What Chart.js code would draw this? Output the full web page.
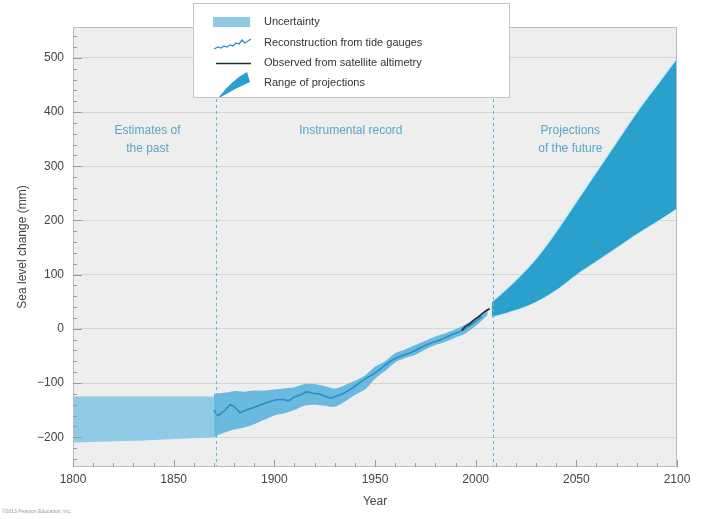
<!DOCTYPE html>
<html>
<head>
<meta charset="utf-8">
<script src="https://cdn.jsdelivr.net/npm/chart.js@4/dist/chart.umd.min.js"></script>
<style>
  html, body { margin: 0; padding: 0; background: #ffffff; }
  #wrap { position: relative; width: 706px; height: 519px; }
  canvas { display: block; }
</style>
</head>
<body>
<div id="wrap"><canvas id="c" width="706" height="519"></canvas></div>
<script>
// Estimates of the past (before tide gauges)
const pastYears = [1800, 1835, 1870];
const pastUpper = [-125, -125, -125];
const pastLower = [-210, -206, -200];

// Instrumental record: uncertainty envelope
const bandYears = [1870, 1875, 1880, 1885, 1890, 1895, 1900, 1905, 1910, 1915, 1920, 1925, 1930, 1935,
                   1940, 1945, 1950, 1955, 1960, 1965, 1970, 1975, 1980, 1985, 1990, 1995, 2000, 2006];
const bandUpper = [-120, -118, -115, -116, -114, -114, -112, -110, -108, -102, -102, -106, -110, -104,
                   -96, -86, -70, -60, -45, -38, -30, -22, -14, -8, -1, 8, 20, 38];
const bandLower = [-200, -192, -186, -182, -176, -168, -160, -156, -150, -142, -140, -142, -144, -134,
                   -122, -112, -92, -78, -62, -54, -48, -38, -30, -24, -16, -8, 5, 26];

// Reconstruction from tide gauges
const tideYears = [1870, 1872, 1875, 1878, 1880, 1883, 1886, 1889, 1892, 1895, 1898, 1901, 1904, 1907,
                   1910, 1913, 1916, 1919, 1922, 1925, 1928, 1931, 1934, 1937, 1940, 1943, 1946, 1949,
                   1952, 1955, 1958, 1961, 1964, 1967, 1970, 1973, 1976, 1979, 1982, 1985, 1988, 1991,
                   1994, 1997, 2000, 2003];
const tideValues = [-150, -160, -152, -140, -143, -155, -150, -146, -142, -138, -134, -131, -130, -133,
                    -126, -122, -116, -119, -120, -124, -128, -124, -120, -113, -106, -98, -90, -84,
                    -76, -67, -59, -53, -49, -45, -40, -34, -29, -25, -21, -16, -11, -7,
                    -2, 6, 14, 22];

// Observed from satellite altimetry
const satYears = [1993, 1995, 1997, 1999, 2001, 2003, 2005, 2007];
const satValues = [-3, 5, 9, 16, 21, 27, 33, 37];

// Range of projections
const projYears = [2008, 2020, 2030, 2040, 2050, 2060, 2070, 2080, 2090, 2100];
const projUpper = [50, 90, 130, 180, 235, 290, 345, 400, 450, 500];
const projLower = [22, 35, 50, 72, 100, 125, 150, 175, 198, 222];

// Axis ticks and period boundaries
const xTicks = [1800, 1850, 1900, 1950, 2000, 2050, 2100];
const yTicks = [-200, -100, 0, 100, 200, 300, 400, 500];
const periodBreaks = [1871, 2008.5];
const periodLabels = [
  { lines: ['Estimates of', 'the past'], center: 1837 },
  { lines: ['Instrumental record'], center: 1938 },
  { lines: ['Projections', 'of the future'], center: 2047 }
];
const legendItems = ['Uncertainty', 'Reconstruction from tide gauges', 'Observed from satellite altimetry', 'Range of projections'];

const FONT = "'Liberation Sans', Arial, Helvetica, sans-serif";
const pts = (xs, ys) => xs.map((x, i) => ({ x: x, y: ys[i] }));

const C_PAST = '#8fcbe5';
const C_BAND = '#69bade';
const C_LINE = '#2b8fc2';
const C_SAT = '#1d3236';
const C_PROJ = '#2aa0cd';

const plotBackground = {
  id: 'plotBackground',
  beforeDraw(chart) {
    const { ctx, chartArea: a } = chart;
    ctx.save();
    ctx.fillStyle = '#eeeeee';
    ctx.fillRect(a.left, a.top, a.right - a.left, a.bottom - a.top);
    ctx.restore();
  }
};

const overlays = {
  id: 'overlays',
  afterDatasetsDraw(chart) {
    const { ctx, chartArea: a, scales: { x, y } } = chart;
    ctx.save();
    // period separators
    ctx.strokeStyle = '#6cb2d8';
    ctx.lineWidth = 1;
    ctx.setLineDash([3, 3]);
    periodBreaks.forEach(yr => {
      const px = Math.round(x.getPixelForValue(yr)) + 0.5;
      ctx.beginPath();
      ctx.moveTo(px, a.top);
      ctx.lineTo(px, a.bottom);
      ctx.stroke();
    });
    ctx.setLineDash([]);

    // frame
    ctx.strokeStyle = '#bdbdbd';
    ctx.strokeRect(a.left + 0.5, a.top + 0.5, a.right - a.left - 1, a.bottom - a.top - 1);

    // inner tick marks
    ctx.strokeStyle = '#9a9a9a';
    ctx.beginPath();
    for (let yr = 1800; yr <= 2100; yr += 10) {
      const px = Math.round(x.getPixelForValue(yr)) + 0.5;
      const len = yr % 50 === 0 ? 7 : 4;
      ctx.moveTo(px, a.bottom);
      ctx.lineTo(px, a.bottom - len);
    }
    for (let v = -240; v <= 540; v += 20) {
      const py = Math.round(y.getPixelForValue(v)) + 0.5;
      const len = v % 100 === 0 ? 9 : 4;
      ctx.moveTo(a.left, py);
      ctx.lineTo(a.left + len, py);
    }
    ctx.stroke();

    // period labels
    ctx.fillStyle = '#58a6c9';
    ctx.font = '12px ' + FONT;
    ctx.textAlign = 'center';
    ctx.textBaseline = 'middle';
    periodLabels.forEach(p => {
      const cx = x.getPixelForValue(p.center);
      p.lines.forEach((t, i) => ctx.fillText(t, cx, 131 + i * 18));
    });
    ctx.restore();
  },
  afterDraw(chart) {
    const ctx = chart.ctx;
    ctx.save();
    // legend box
    const bx = 193, by = 3, bw = 316, bh = 94;
    ctx.fillStyle = '#ffffff';
    ctx.fillRect(bx, by, bw, bh);
    ctx.strokeStyle = '#c4c4c4';
    ctx.lineWidth = 1;
    ctx.strokeRect(bx + 0.5, by + 0.5, bw, bh);

    const rowY = [22, 43, 63, 83];
    // uncertainty swatch
    ctx.fillStyle = C_PAST;
    ctx.fillRect(213, 17, 37, 10);
    // tide gauge icon
    ctx.strokeStyle = C_LINE;
    ctx.lineWidth = 1.3;
    ctx.beginPath();
    const wig = [[214, 49], [218, 47], [221, 48], [224, 46], [227, 47], [230, 45], [233, 46], [236, 43], [239, 44], [242, 40], [245, 43], [248, 41], [251, 39]];
    wig.forEach((p, i) => i ? ctx.lineTo(p[0], p[1]) : ctx.moveTo(p[0], p[1]));
    ctx.stroke();
    // satellite icon
    ctx.strokeStyle = C_SAT;
    ctx.lineWidth = 1.5;
    ctx.beginPath();
    ctx.moveTo(216, 63.5);
    ctx.lineTo(251, 63.5);
    ctx.stroke();
    // projection wedge icon
    ctx.fillStyle = C_PROJ;
    ctx.beginPath();
    ctx.moveTo(219, 97);
    ctx.quadraticCurveTo(232, 80, 247, 72);
    ctx.lineTo(250, 82);
    ctx.quadraticCurveTo(236, 88, 221, 97);
    ctx.closePath();
    ctx.fill();

    ctx.fillStyle = '#333333';
    ctx.font = '11px ' + FONT;
    ctx.textAlign = 'left';
    ctx.textBaseline = 'middle';
    legendItems.forEach((t, i) => ctx.fillText(t, 264, rowY[i]));

    // credit line
    ctx.fillStyle = '#9a9a9a';
    ctx.font = '5px ' + FONT;
    ctx.fillText('©2013 Pearson Education, Inc.', 2, 512);
    ctx.restore();
  }
};

new Chart(document.getElementById('c'), {
  type: 'line',
  data: {
    datasets: [
      { data: pts(pastYears, pastUpper), order: 3, borderWidth: 0, pointRadius: 0, fill: '+1', backgroundColor: C_PAST },
      { data: pts(pastYears, pastLower), order: 3, borderWidth: 0, pointRadius: 0, fill: false },
      { data: pts(bandYears, bandUpper), order: 2, borderWidth: 0, pointRadius: 0, fill: '+1', backgroundColor: C_BAND, tension: 0.3 },
      { data: pts(bandYears, bandLower), order: 2, borderWidth: 0, pointRadius: 0, fill: false, tension: 0.3 },
      { data: pts(tideYears, tideValues), order: 1, borderColor: C_LINE, borderWidth: 1.6, pointRadius: 0, fill: false },
      { data: pts(satYears, satValues), order: 0, borderColor: C_SAT, borderWidth: 1.6, pointRadius: 0, fill: false },
      { data: pts(projYears, projUpper), order: 2, borderColor: '#c9ebf7', borderWidth: 1.5, pointRadius: 0, fill: '+1', backgroundColor: C_PROJ, tension: 0.4 },
      { data: pts(projYears, projLower), order: 2, borderColor: '#c9ebf7', borderWidth: 1.5, pointRadius: 0, fill: false, tension: 0.4 }
    ]
  },
  options: {
    responsive: false,
    animation: false,
    devicePixelRatio: 1,
    layout: { padding: { left: 0, right: 29, top: 27, bottom: 0 } },
    plugins: { legend: { display: false }, tooltip: { enabled: false } },
    scales: {
      x: {
        type: 'linear',
        min: 1800,
        max: 2100,
        afterBuildTicks: s => { s.ticks = xTicks.map(v => ({ value: v })); },
        afterFit: s => { s.height = 52; },
        grid: { display: false, drawTicks: false },
        border: { display: false },
        ticks: { color: '#444444', font: { family: FONT, size: 12 }, padding: 5, maxRotation: 0, autoSkip: false,
                 callback: v => String(v) },
        title: { display: true, text: 'Year', color: '#444444', font: { family: FONT, size: 12 }, padding: { top: 0, bottom: 10 } }
      },
      y: {
        min: -255,
        max: 557,
        afterBuildTicks: s => { s.ticks = yTicks.map(v => ({ value: v })); },
        afterFit: s => { s.width = 73; },
        grid: { color: '#d6d6d6', lineWidth: 1, drawTicks: false },
        border: { display: false },
        ticks: { color: '#444444', font: { family: FONT, size: 12 }, padding: 9, autoSkip: false,
                 callback: v => (v < 0 ? '\u2212' + Math.abs(v) : String(v)) },
        title: { display: true, text: 'Sea level change (mm)', color: '#444444', font: { family: FONT, size: 12 }, padding: { top: 15, bottom: 0 } }
      }
    }
  },
  plugins: [plotBackground, overlays]
});
</script>
</body>
</html>
